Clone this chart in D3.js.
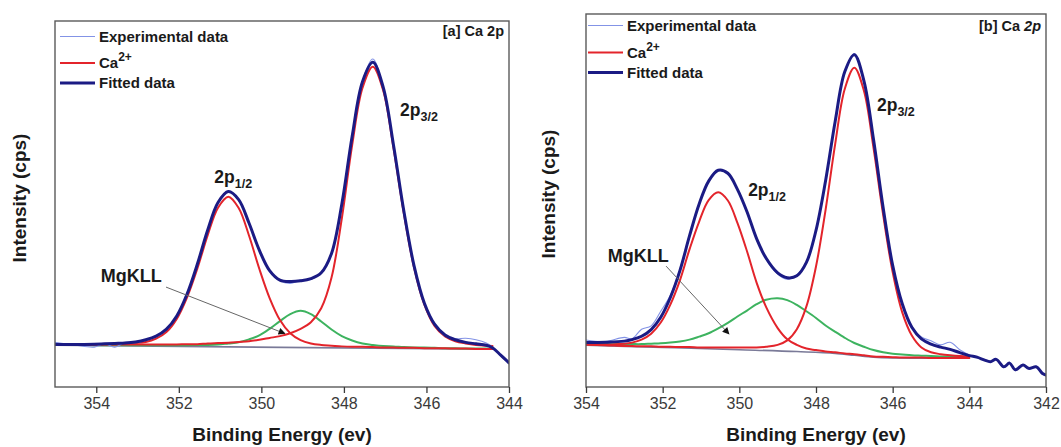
<!DOCTYPE html>
<html>
<head>
<meta charset="utf-8">
<script src="https://cdn.jsdelivr.net/npm/d3@7"></script>
<style>
  body { margin: 0; background: #ffffff; }
  svg { display: block; font-family: "Liberation Sans", Arial, sans-serif; }
</style>
</head>
<body>
<svg id="chart" width="1061" height="447"></svg>
<script>
// ---------- Panel (a): Ca 2p ----------
const energyA = [355, 354.5, 354.05, 353.8, 353.55, 353.3, 353.05, 352.8, 352.55, 352.3,
  352.05, 351.8, 351.55, 351.3, 351.05, 350.8, 350.55, 350.3, 350.05, 349.8,
  349.55, 349.3, 349.05, 348.8, 348.55, 348.3, 348.05, 347.8, 347.55, 347.3,
  347.05, 346.8, 346.55, 346.3, 346.05, 345.8, 345.55, 345.3, 345.05, 344.8,
  344.55, 344.4, 344.2, 344.0];
const baselineEnergyA = [355, 344.4];
const baselineA = [11.4, 10.3];
const ca2p12A = [11.6, 11.6, 11.6, 11.7, 11.7, 11.8, 12.0, 12.3, 13.2, 15.0,
  18.6, 24.5, 32.4, 41.5, 49.0, 52.0, 48.9, 41.4, 32.3, 24.3,
  18.3, 14.7, 12.8, 11.9, 11.5, 11.3, 11.1, 11.0, 11.0, 10.9,
  10.8, 10.8, 10.7, 10.7, 10.6, 10.6, 10.6, 10.5, 10.5, 10.4,
  10.4, 10.4];
const ca2p32A = [11.6, 11.6, 11.6, 11.6, 11.6, 11.6, 11.6, 11.6, 11.6, 11.6,
  11.6, 11.7, 11.7, 11.9, 12.0, 12.1, 12.3, 12.5, 12.9, 13.4,
  13.9, 14.7, 15.9, 17.7, 21.5, 29.9, 46.1, 66.1, 81.7, 87.5,
  81.1, 65.4, 47.6, 32.6, 22.5, 16.6, 13.8, 12.5, 11.9, 11.5,
  11.3, 11.2];
const mgkllA = [11.5, 11.5, 11.4, 11.4, 11.4, 11.4, 11.4, 11.4, 11.4, 11.4,
  11.4, 11.4, 11.5, 11.5, 11.6, 11.9, 12.2, 13.0, 14.1, 15.9,
  18.0, 19.9, 20.8, 19.9, 17.9, 15.7, 13.9, 12.7, 11.9, 11.5,
  11.2, 11.1, 10.9, 10.8, 10.8, 10.7, 10.6, 10.6, 10.5, 10.5,
  10.5, 10.4];
const fittedA = [11.6, 11.6, 11.7, 11.8, 11.9, 12.0, 12.3, 12.9, 13.9, 15.8,
  19.4, 25.4, 33.6, 42.9, 50.4, 53.4, 51.2, 44.8, 37.4, 31.8,
  29.2, 28.8, 29.0, 29.6, 31.2, 36.5, 50.0, 68.5, 83.4, 88.7,
  82.0, 66.2, 48.2, 33.1, 22.9, 17.1, 14.2, 12.9, 12.2, 11.8,
  11.4, 10.7, 8.7, 6.6];
const experimentalA = [12.2, 11.4, 10.9, 11.8, 10.9, 12.2, 12.1, 12.8, 14.0, 15.6,
  19.5, 25.2, 33.8, 42.7, 50.5, 53.6, 51.0, 44.9, 37.2, 31.6,
  29.0, 28.3, 29.2, 29.4, 31.4, 36.3, 50.2, 68.3, 83.6, 89.6,
  81.7, 66.4, 48.0, 33.3, 22.7, 17.3, 14.0, 13.2, 13.3, 12.9,
  12.0, 10.9, 8.5, 6.4];
const ticksA = [354, 352, 350, 348, 346, 344];

// ---------- Panel (b): Ca 2p ----------
const energyB = [354.0, 353.5, 353.0, 352.8, 352.55, 352.3, 352.05, 351.8, 351.55, 351.3,
  351.05, 350.8, 350.55, 350.3, 350.05, 349.8, 349.55, 349.3, 349.0, 348.75,
  348.5, 348.25, 348.0, 347.75, 347.5, 347.25, 347.0, 346.75, 346.5, 346.25,
  346.0, 345.75, 345.5, 345.25, 345.0, 344.75, 344.5, 344.25, 344.0, 343.8,
  343.6, 343.45, 343.3, 343.1, 342.95, 342.8, 342.6, 342.45, 342.25, 342.1,
  342.0];
const baselineEnergyB = [354, 352, 350, 348.5, 347.5, 347, 346.5, 346, 345, 344];
const baselineB = [11.2, 10.6, 10.0, 9.5, 9.0, 8.5, 8.0, 7.8, 7.7, 7.7];
const ca2p12B = [11.5, 11.4, 11.6, 11.9, 12.7, 14.3, 17.3, 22.1, 28.6, 36.9,
  44.3, 50.1, 52.2, 50.0, 44.0, 36.4, 28.0, 21.4, 15.8, 12.8,
  11.3, 10.3, 9.9, 9.5, 9.3, 9.0, 8.8, 8.5, 8.2, 8.1,
  8.0, 7.9, 7.9, 7.9, 7.8, 7.8, 7.8, 7.8, 7.8];
const ca2p32B = [11.3, 11.2, 11.0, 11.0, 10.9, 10.9, 10.8, 10.8, 10.7, 10.7,
  10.6, 10.6, 10.6, 10.6, 10.6, 10.6, 10.6, 10.8, 11.3, 12.5,
  15.5, 21.6, 32.3, 47.5, 65.1, 79.9, 85.6, 79.4, 64.1, 46.3,
  30.8, 20.0, 13.8, 10.6, 9.3, 8.8, 8.5, 8.3, 8.2];
const mgkllB = [11.6, 11.5, 11.5, 11.5, 11.5, 11.6, 11.7, 11.9, 12.2, 12.7,
  13.5, 14.4, 15.7, 17.2, 18.9, 20.5, 22.2, 23.4, 23.8, 23.3,
  22.0, 20.3, 18.5, 16.5, 14.8, 13.2, 11.8, 10.8, 9.9, 9.3,
  8.9, 8.7, 8.5, 8.4, 8.3, 8.2, 8.1, 8.1, 8.1];
const fittedB = [11.9, 12.0, 12.3, 12.7, 13.6, 15.4, 18.7, 24.0, 31.2, 40.5,
  49.0, 55.2, 58.1, 57.3, 53.0, 47.0, 39.8, 34.5, 30.6, 29.3,
  29.8, 33.4, 42.0, 55.3, 71.2, 84.5, 89.1, 82.1, 66.4, 48.2,
  32.6, 22.3, 16.0, 12.9, 11.5, 10.7, 10.1, 9.2, 8.4, 8.0,
  7.2, 6.8, 7.4, 5.4, 6.4, 4.6, 5.9, 5.0, 5.4, 3.7,
  3.2];
const experimentalB = [12.6, 12.2, 13.3, 12.9, 15.5, 16.4, 20.3, 24.6, 31.6, 40.8,
  48.8, 55.4, 58.3, 57.0, 53.2, 46.7, 40.1, 34.2, 30.3, 28.9,
  30.1, 33.2, 42.3, 55.0, 71.5, 84.3, 89.4, 81.8, 66.7, 48.0,
  32.9, 22.0, 16.3, 13.4, 12.4, 11.3, 12.0, 10.0, 8.6, 7.8,
  7.4, 6.6, 7.6, 5.2, 6.6, 4.4, 6.1, 4.8, 5.6, 3.5,
  3.0];
const ticksB = [354, 352, 350, 348, 346, 344, 342];

const legendLabels = ["Experimental data", "Ca", "Fitted data"];

const colors = {
  experimental: "#8393e6",
  ca: "#e3242b",
  fitted: "#1b1b84",
  mgkll: "#3db35f",
  baseline: "#7a7a98",
  frame: "#5a5a5a",
  text: "#1a1a1a",
  tick: "#3a3a3a"
};

const svg = d3.select("#chart");
const defs = svg.append("defs");
defs.append("marker")
  .attr("id", "arrowhead")
  .attr("viewBox", "0 0 10 10")
  .attr("refX", 9).attr("refY", 5)
  .attr("markerWidth", 9).attr("markerHeight", 7)
  .attr("markerUnits", "userSpaceOnUse")
  .attr("orient", "auto")
  .append("path").attr("d", "M0,0 L10,5 L0,10 Z").attr("fill", "#111");

function drawPanel(p) {
  const x = d3.scaleLinear().domain(p.xDomain).range([p.left, p.right]);
  const y = d3.scaleLinear().domain([0, 100]).range([p.bottom, p.top]);
  const root = svg.append("g");

  defs.append("clipPath").attr("id", "clip-" + p.id)
    .append("rect")
    .attr("x", p.left).attr("y", p.top)
    .attr("width", p.right - p.left).attr("height", p.bottom - p.top);

  const plot = root.append("g").attr("clip-path", `url(#clip-${p.id})`);

  const path = (energies, values, curve) => d3.line()
    .x((d, i) => x(energies[i]))
    .y(d => y(d))
    .curve(curve || d3.curveCatmullRom.alpha(0.5))(values);

  const series = [
    { e: p.baselineEnergy, v: p.baseline, color: colors.baseline, w: 1.6, curve: d3.curveMonotoneX },
    { e: p.energy, v: p.mgkll, color: colors.mgkll, w: 2 },
    { e: p.energy, v: p.ca12, color: colors.ca, w: 2 },
    { e: p.energy, v: p.ca32, color: colors.ca, w: 2 },
    { e: p.energy, v: p.experimental, color: colors.experimental, w: 1.1 },
    { e: p.energy, v: p.fitted, color: colors.fitted, w: 3 }
  ];
  series.forEach(s => {
    plot.append("path")
      .attr("d", path(s.e, s.v, s.curve))
      .attr("fill", "none")
      .attr("stroke", s.color)
      .attr("stroke-width", s.w)
      .attr("stroke-linejoin", "round")
      .attr("stroke-linecap", "round");
  });

  // frame
  root.append("rect")
    .attr("x", p.left).attr("y", p.top)
    .attr("width", p.right - p.left).attr("height", p.bottom - p.top)
    .attr("fill", "none").attr("stroke", colors.frame).attr("stroke-width", 1.4);

  // bottom axis
  const axis = root.append("g")
    .attr("transform", `translate(0,${p.bottom})`)
    .call(d3.axisBottom(x).tickValues(p.ticks).tickSize(6).tickPadding(5).tickFormat(d3.format("d")));
  axis.select(".domain").remove();
  axis.selectAll(".tick line").attr("stroke", colors.tick).attr("stroke-width", 1.3);
  axis.selectAll(".tick text")
    .attr("fill", colors.tick)
    .style("font-family", "'Liberation Sans', Arial, sans-serif")
    .style("font-size", "16px");

  // axis titles
  root.append("text")
    .attr("x", (p.left + p.right) / 2 + p.xTitleShift).attr("y", 441)
    .attr("text-anchor", "middle")
    .attr("font-size", 19).attr("font-weight", "bold").attr("fill", colors.text)
    .text("Binding Energy (ev)");
  root.append("text")
    .attr("transform", `translate(${p.yTitleX},${p.yTitleY}) rotate(-90)`)
    .attr("text-anchor", "middle")
    .attr("font-size", 19).attr("font-weight", "bold").attr("fill", colors.text)
    .text("Intensity (cps)");

  // legend
  const legendColors = [colors.experimental, colors.ca, colors.fitted];
  const legendWidths = [1.1, 2.2, 3];
  legendLabels.forEach((label, i) => {
    root.append("line")
      .attr("x1", p.legendX).attr("x2", p.legendX + 35)
      .attr("y1", p.legendRows[i] - 5).attr("y2", p.legendRows[i] - 5)
      .attr("stroke", legendColors[i]).attr("stroke-width", legendWidths[i]);
    const t = root.append("text")
      .attr("x", p.legendX + 39).attr("y", p.legendRows[i])
      .attr("font-size", 15).attr("font-weight", "bold").attr("fill", colors.text)
      .text(label);
    if (label === "Ca") {
      t.append("tspan").attr("dy", -7).attr("font-size", 12).text("2+");
    }
  });

  // panel tag
  const tag = root.append("text")
    .attr("x", p.right - 5).attr("y", p.tagY)
    .attr("text-anchor", "end")
    .attr("font-size", 14.5).attr("font-weight", "bold").attr("fill", colors.text)
    .text(p.tag + " Ca ");
  tag.append("tspan").attr("font-style", p.tagItalic ? "italic" : "normal").text("2p");

  // peak labels
  p.peaks.forEach(pk => {
    const t = root.append("text")
      .attr("x", x(pk.e)).attr("y", y(pk.v))
      .attr("font-size", 17.5).attr("font-weight", "bold").attr("fill", colors.text)
      .text("2p");
    t.append("tspan").attr("dy", 5).attr("font-size", 12.5).text(pk.sub);
  });

  // MgKLL annotation with arrow
  root.append("text")
    .attr("x", x(p.mg.e)).attr("y", y(p.mg.v))
    .attr("font-size", 18).attr("font-weight", "bold").attr("fill", colors.text)
    .text("MgKLL");
  root.append("line")
    .attr("x1", x(p.arrow[0][0])).attr("y1", y(p.arrow[0][1]))
    .attr("x2", x(p.arrow[1][0])).attr("y2", y(p.arrow[1][1]))
    .attr("stroke", "#666").attr("stroke-width", 1)
    .attr("marker-end", "url(#arrowhead)");
}

drawPanel({
  id: "a", left: 55, right: 509, top: 21, bottom: 387,
  xDomain: [355, 344], ticks: ticksA,
  energy: energyA, baselineEnergy: baselineEnergyA, baseline: baselineA,
  ca12: ca2p12A, ca32: ca2p32A, mgkll: mgkllA, fitted: fittedA, experimental: experimentalA,
  xTitleShift: 0, yTitleX: 25.5, yTitleY: 198,
  legendX: 60, legendRows: [41.5, 68, 88],
  tag: "[a]", tagY: 36, tagItalic: false,
  peaks: [{ e: 346.64, v: 74.0, sub: "3/2" }, { e: 351.14, v: 55.7, sub: "1/2" }],
  mg: { e: 353.89, v: 28.7 },
  arrow: [[352.31, 27.3], [349.43, 14.6]]
});

drawPanel({
  id: "b", left: 586, right: 1046, top: 14, bottom: 387,
  xDomain: [354, 342], ticks: ticksB,
  energy: energyB, baselineEnergy: baselineEnergyB, baseline: baselineB,
  ca12: ca2p12B, ca32: ca2p32B, mgkll: mgkllB, fitted: fittedB, experimental: experimentalB,
  xTitleShift: 0, yTitleX: 554.5, yTitleY: 194,
  legendX: 588, legendRows: [30.5, 57.5, 77.5],
  tag: "[b]", tagY: 31, tagItalic: true,
  peaks: [{ e: 346.41, v: 74.0, sub: "3/2" }, { e: 349.77, v: 51.2, sub: "1/2" }],
  mg: { e: 353.43, v: 33.5 },
  arrow: [[351.91, 32.4], [350.27, 14.2]]
});
</script>
</body>
</html>
